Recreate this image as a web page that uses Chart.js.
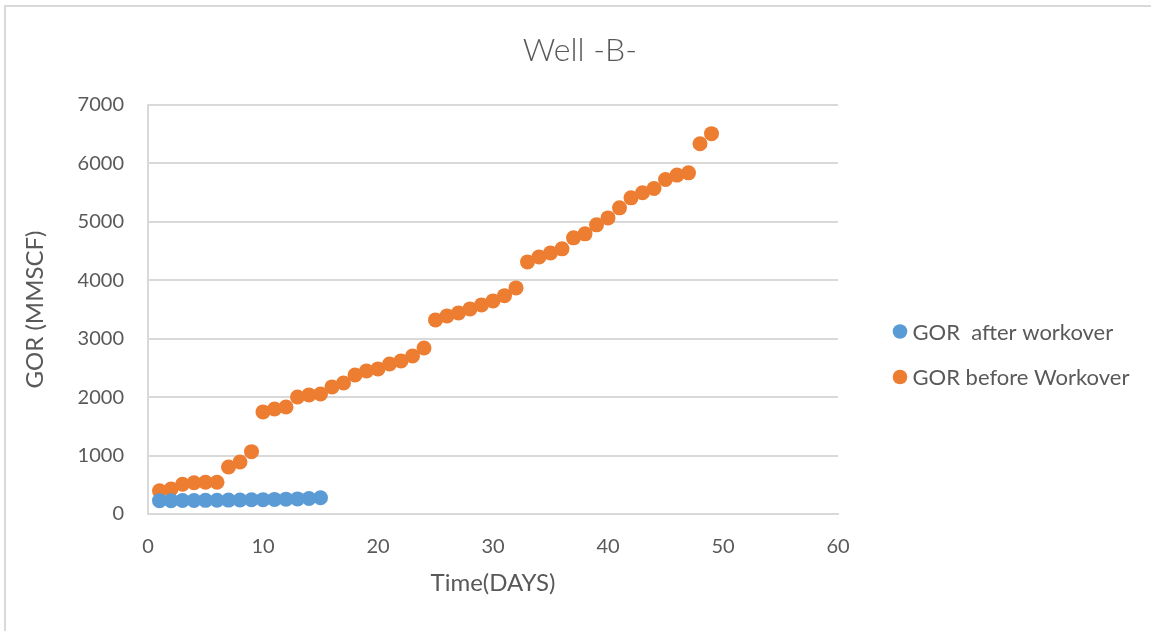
<!DOCTYPE html>
<html>
<head>
<meta charset="utf-8">
<script src="https://cdn.jsdelivr.net/npm/chart.js@4/dist/chart.umd.min.js"></script>
<style>
  html, body { margin: 0; padding: 0; background: #fff; }
  #wrap { position: relative; width: 1151px; height: 631px; overflow: hidden; }
  #frame { position: absolute; left: 4px; top: 5px; width: 1200px; height: 700px;
           border-top: 2px solid #d9d9d9; border-left: 2px solid #d9d9d9; box-sizing: border-box; }
  canvas { position: absolute; left: 0; top: 0; }
</style>
</head>
<body>
<div id="wrap">
  <div id="frame"></div>
  <canvas id="c" width="1151" height="631"></canvas>
</div>
<script>
// Gas-oil ratio readings per day
const daysAfter = [1, 2, 3, 4, 5, 6, 7, 8, 9, 10, 11, 12, 13, 14, 15];
const gorAfter = [228, 228, 230, 232, 234, 236, 238, 240, 243, 246, 250, 254, 258, 266, 279];

const daysBefore = [1, 2, 3, 4, 5, 6, 7, 8, 9, 10, 11, 12, 13, 14, 15, 16, 17, 18, 19, 20,
  21, 22, 23, 24, 25, 26, 27, 28, 29, 30, 31, 32, 33, 34, 35, 36, 37, 38, 39, 40,
  41, 42, 43, 44, 45, 46, 47, 48, 49];
const gorBefore = [399, 428, 508, 536, 543, 543, 805, 890, 1067, 1747, 1798, 1832, 2003, 2038, 2055,
  2175, 2243, 2380, 2449, 2483, 2568, 2620, 2705, 2842, 3322, 3390, 3442, 3510, 3579, 3647,
  3737, 3870, 4315, 4400, 4469, 4538, 4726, 4795, 4949, 5068, 5240, 5411, 5497, 5570, 5724,
  5800, 5839, 6336, 6510];

const xTicks = [0, 10, 20, 30, 40, 50, 60];
const yTicks = [0, 1000, 2000, 3000, 4000, 5000, 6000, 7000];

const seriesNames = ['GOR  after workover', 'GOR before Workover'];
const seriesColors = ['#5B9BD5', '#ED7D31'];
const chartTitle = 'Well -B-';
const xTitle = 'Time(DAYS)';
const yTitle = 'GOR (MMSCF)';

const FONT = 'Lato, "Open Sans", sans-serif';
const TEXT = '#595959';
const GRID = '#d9d9d9';

const toPoints = (xs, ys) => xs.map((x, i) => ({ x: x, y: ys[i] }));

// Legend drawn beside the plot, one round marker per series
const sideLegend = {
  id: 'sideLegend',
  afterDraw(chart) {
    const ctx = chart.ctx;
    const x0 = 900, y0 = 331.5, gap = 45.5;
    ctx.save();
    ctx.font = '22px ' + FONT;
    ctx.textBaseline = 'middle';
    ctx.textAlign = 'left';
    chart.data.datasets.forEach((ds, i) => {
      const y = y0 + i * gap;
      ctx.beginPath();
      ctx.arc(x0, y, 7.3, 0, Math.PI * 2);
      ctx.fillStyle = ds.backgroundColor;
      ctx.fill();
      ctx.fillStyle = TEXT;
      ctx.fillText(ds.label, x0 + 12.5, y + 1);
    });
    ctx.restore();
  }
};

new Chart(document.getElementById('c'), {
  type: 'scatter',
  data: {
    datasets: [
      { label: seriesNames[0], data: toPoints(daysAfter, gorAfter),
        backgroundColor: seriesColors[0], borderColor: seriesColors[0],
        pointRadius: 7.5, pointHoverRadius: 7.5, borderWidth: 0 },
      { label: seriesNames[1], data: toPoints(daysBefore, gorBefore),
        backgroundColor: seriesColors[1], borderColor: seriesColors[1],
        pointRadius: 7.5, pointHoverRadius: 7.5, borderWidth: 0 }
    ]
  },
  plugins: [sideLegend],
  options: {
    responsive: false,
    animation: false,
    events: [],
    layout: { padding: { left: 9, top: 0, right: 0, bottom: 0 } },
    plugins: {
      legend: { display: false },
      tooltip: { enabled: false },
      title: {
        display: true, text: chartTitle, color: TEXT,
        font: { family: FONT, size: 32, weight: 300 },
        padding: { top: 31, bottom: 35.6 }
      }
    },
    scales: {
      x: {
        type: 'linear', min: xTicks[0], max: xTicks[xTicks.length - 1],
        afterBuildTicks: s => { s.ticks = xTicks.map(v => ({ value: v })); },
        afterFit: s => { s.height = 631 - 514; },
        grid: { display: false, drawTicks: false },
        border: { display: true, color: GRID, width: 2 },
        ticks: { color: TEXT, font: { family: FONT, size: 20 }, padding: 21, maxRotation: 0,
                 callback: v => String(v) },
        title: { display: true, text: xTitle, color: TEXT,
                 font: { family: FONT, size: 24 }, padding: { top: 10, bottom: 33.6 } }
      },
      y: {
        type: 'linear', min: yTicks[0], max: yTicks[yTicks.length - 1],
        afterBuildTicks: s => { s.ticks = yTicks.map(v => ({ value: v })); },
        afterFit: s => { s.width = 148 - 9; },
        grid: { color: GRID, lineWidth: 2, drawTicks: false },
        border: { display: true, color: GRID, width: 2 },
        ticks: { color: TEXT, font: { family: FONT, size: 20 }, padding: 24,
                 callback: v => String(v) },
        title: { display: true, text: yTitle, color: TEXT,
                 font: { family: FONT, size: 24 }, padding: { top: 12, bottom: 0 } }
      },
      // empty right-hand band that holds the legend
      side: {
        type: 'linear', position: 'right', display: true,
        afterFit: s => { s.width = 1151 - 838; },
        grid: { display: false, drawTicks: false },
        border: { display: false },
        ticks: { display: false }
      }
    }
  }
});
</script>
</body>
</html>
